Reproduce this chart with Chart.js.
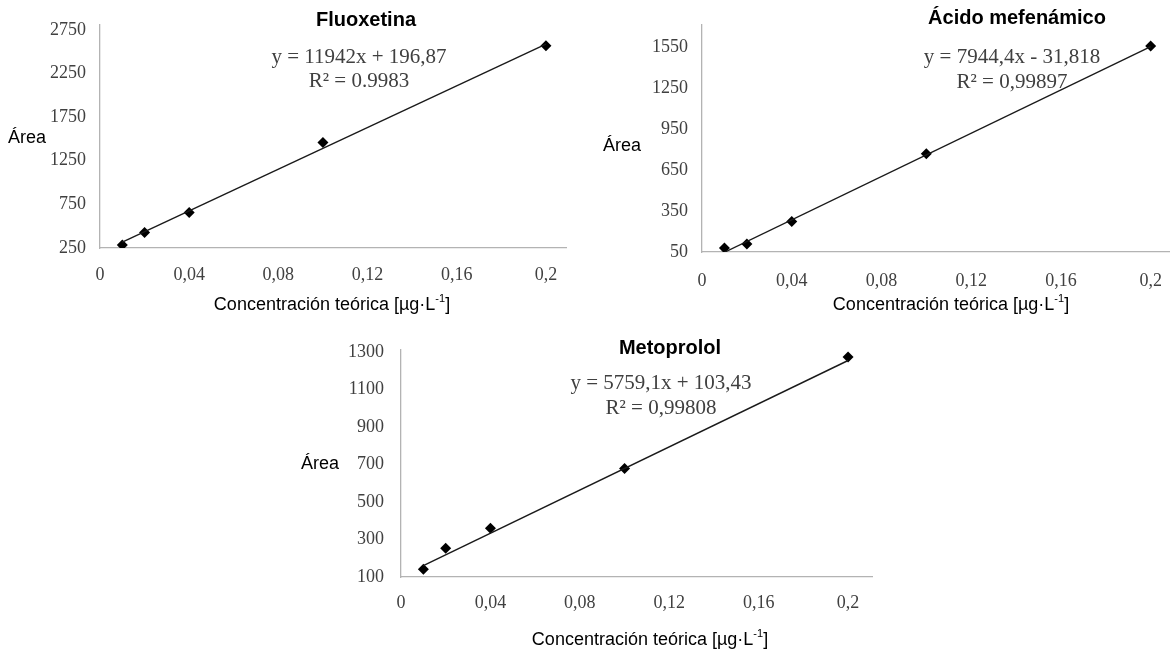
<!DOCTYPE html>
<html>
<head>
<meta charset="utf-8">
<script src="https://cdn.jsdelivr.net/npm/chart.js@4.4.0/dist/chart.umd.min.js"></script>
<style>
  body { margin: 0; background: #fff; }
  #wrap { position: relative; width: 1175px; height: 656px; background: #fff; }
  .box { position: absolute; }
</style>
</head>
<body>
<div id="wrap">
  <div class="box" style="left:0;top:0;width:590px;height:320px"><canvas id="fluo"></canvas></div>
  <div class="box" style="left:590px;top:0;width:585px;height:320px"><canvas id="mef"></canvas></div>
  <div class="box" style="left:290px;top:320px;width:600px;height:336px"><canvas id="meto"></canvas></div>
</div>
<script>
// Concentraciones (eje x) comunes a las tres curvas
const concX = [0.01, 0.02, 0.04, 0.1, 0.2];

// Áreas medidas
const fluoArea = [284, 428, 657, 1459, 2567];
const mefArea = [79, 108, 273, 770, 1562];
const metoArea = [142, 254, 360, 679, 1273];

// Recta de tendencia (extremos)
const trendX = [0.01, 0.2];
const fluoTrend = [316, 2585];
const mefTrend = [48, 1557];
const metoTrend = [161, 1255];

// Marcas de los ejes
const xTicks = [0, 0.04, 0.08, 0.12, 0.16, 0.2];
const xTickLabels = ['0', '0,04', '0,08', '0,12', '0,16', '0,2'];
const fluoYTicks = [250, 750, 1250, 1750, 2250, 2750];
const mefYTicks = [50, 350, 650, 950, 1250, 1550];
const metoYTicks = [100, 300, 500, 700, 900, 1100, 1300];

const serif = '"Liberation Serif", "Times New Roman", serif';
const sans = '"Liberation Sans", Arial, sans-serif';

// Textos: título, ecuación, R², "Área" y título del eje x (horizontal, con superíndice)
function notesPlugin(n) {
    return {
        id: 'notes',
        afterDraw(chart) {
            const ctx = chart.ctx;
            ctx.save();
            ctx.textBaseline = 'middle';

            ctx.fillStyle = '#000';
            ctx.textAlign = 'center';
            ctx.font = 'bold 20px ' + sans;
            ctx.fillText(n.title, n.titleX, n.titleY);

            ctx.fillStyle = '#404040';
            ctx.font = '21px ' + serif;
            ctx.fillText(n.eq, n.eqX, n.eqY);
            ctx.fillText(n.r2, n.eqX, n.eqY + n.r2Gap);

            ctx.fillStyle = '#000';
            ctx.textAlign = 'left';
            ctx.font = '18px ' + sans;
            ctx.fillText('Área', n.areaX, n.areaY);

            // Concentración teórica [µg·L-1]
            const main = 'Concentración teórica [µg·L';
            const sup = '-1';
            const end = ']';
            ctx.font = '18px ' + sans;
            const wMain = ctx.measureText(main).width;
            const wEnd = ctx.measureText(end).width;
            ctx.font = '11px ' + sans;
            const wSup = ctx.measureText(sup).width;
            let x = n.xTitleX - (wMain + wSup + wEnd) / 2;
            ctx.font = '18px ' + sans;
            ctx.fillText(main, x, n.xTitleY);
            x += wMain;
            ctx.font = '11px ' + sans;
            ctx.fillText(sup, x, n.xTitleY - 6);
            x += wSup;
            ctx.font = '18px ' + sans;
            ctx.fillText(end, x, n.xTitleY);
            ctx.restore();
        }
    };
}

function makeChart(id, c) {
    const ctx = document.getElementById(id).getContext('2d');
    return new Chart(ctx, {
        type: 'scatter',
        data: {
            datasets: [{
                type: 'line',
                data: trendX.map((x, i) => ({ x: x, y: c.trend[i] })),
                borderColor: '#1a1a1a',
                borderWidth: 1.4,
                pointRadius: 0,
                fill: false
            }, {
                data: concX.map((x, i) => ({ x: x, y: c.area[i] })),
                pointStyle: 'rectRot',
                pointRadius: 5.5,
                backgroundColor: '#000',
                borderColor: '#000',
                borderWidth: 0
            }]
        },
        options: {
            responsive: true,
            maintainAspectRatio: false,
            animation: false,
            layout: { padding: { top: c.top, right: c.W - c.right, left: 0, bottom: 0 } },
            plugins: {
                legend: { display: false },
                tooltip: { enabled: false }
            },
            scales: {
                x: {
                    type: 'linear',
                    min: 0,
                    max: c.xMax,
                    afterFit: s => {
                        s.height = c.H - c.bottom;
                        s.paddingLeft = 0;
                        s.paddingRight = 0;
                    },
                    afterBuildTicks: s => { s.ticks = xTicks.map(v => ({ value: v })); },
                    grid: { display: false, drawTicks: false },
                    border: { display: true, color: '#b3b3b3', width: 1.3 },
                    ticks: {
                        autoSkip: false,
                        maxRotation: 0,
                        padding: c.xPad,
                        color: '#404040',
                        font: { family: serif, size: 18 },
                        callback: v => xTickLabels[xTicks.indexOf(v)]
                    }
                },
                y: {
                    type: 'linear',
                    min: c.yMin,
                    max: c.yMax,
                    afterFit: s => { s.width = c.left; },
                    afterBuildTicks: s => { s.ticks = c.yTicks.map(v => ({ value: v })); },
                    grid: { display: false, drawTicks: false },
                    border: { display: true, color: '#b3b3b3', width: 1.3 },
                    ticks: {
                        autoSkip: false,
                        padding: c.yPad,
                        color: '#404040',
                        font: { family: serif, size: 18 },
                        callback: v => String(v)
                    }
                }
            }
        },
        plugins: [notesPlugin(c.notes)]
    });
}

makeChart('fluo', {
    W: 590, H: 320, left: 100, right: 566, top: 22, bottom: 248,
    xMax: 0.209, yMin: 250, yMax: 2807, xPad: 16, yPad: 14,
    area: fluoArea, trend: fluoTrend, yTicks: fluoYTicks,
    notes: {
        title: 'Fluoxetina', titleX: 366, titleY: 20,
        eq: 'y = 11942x + 196,87', r2: 'R² = 0.9983', eqX: 359, eqY: 57, r2Gap: 24,
        areaX: 8, areaY: 138, xTitleX: 332, xTitleY: 305
    }
});

makeChart('mef', {
    W: 585, H: 320, left: 112, right: 582, top: 22, bottom: 252,
    xMax: 0.2084, yMin: 50, yMax: 1717, xPad: 18, yPad: 14,
    area: mefArea, trend: mefTrend, yTicks: mefYTicks,
    notes: {
        title: 'Ácido mefenámico', titleX: 427, titleY: 18,
        eq: 'y = 7944,4x - 31,818', r2: 'R² = 0,99897', eqX: 422, eqY: 57, r2Gap: 25,
        areaX: 13, areaY: 146, xTitleX: 361, xTitleY: 305
    }
});

makeChart('meto', {
    W: 600, H: 336, left: 111, right: 582, top: 30, bottom: 257,
    xMax: 0.2107, yMin: 100, yMax: 1311, xPad: 15, yPad: 17,
    area: metoArea, trend: metoTrend, yTicks: metoYTicks,
    notes: {
        title: 'Metoprolol', titleX: 380, titleY: 28,
        eq: 'y = 5759,1x + 103,43', r2: 'R² = 0,99808', eqX: 371, eqY: 63, r2Gap: 25,
        areaX: 11, areaY: 144, xTitleX: 360, xTitleY: 320
    }
});
</script>
</body>
</html>
